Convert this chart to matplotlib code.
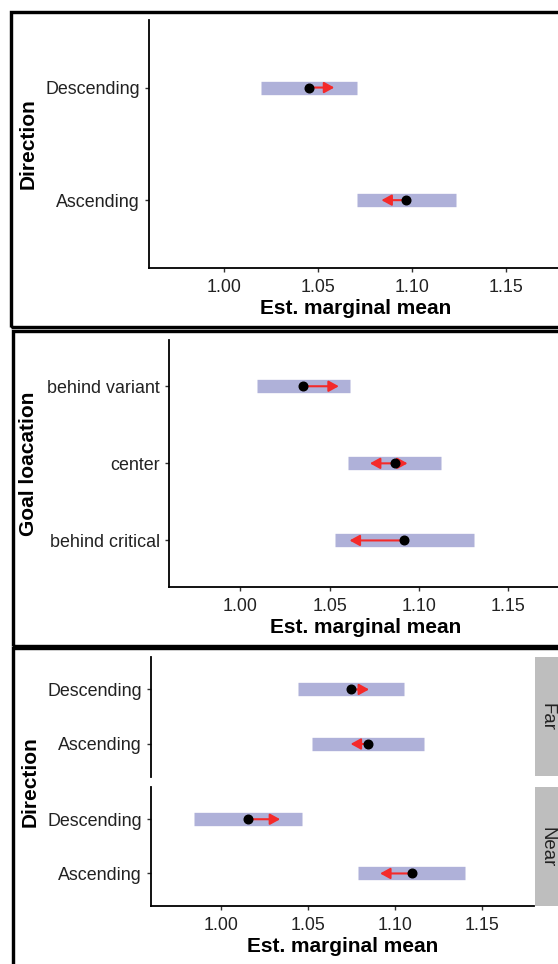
import numpy as np
import matplotlib
matplotlib.use("Agg")
import matplotlib.pyplot as plt
from matplotlib.patches import Rectangle

plt.rcParams['font.family'] = ['Liberation Sans', 'DejaVu Sans']

nan = np.nan
# ---------------- data ----------------
dir_levels = ["Ascending", "Descending"]
p1_emmean = [1.0971, 1.0453]
p1_lower = [1.0710, 1.0196]
p1_upper = [1.1234, 1.0709]
p1_arrow_left = [1.0838, nan]
p1_arrow_right = [nan, 1.0587]

goal_levels = ["behind critical", "center", "behind variant"]
p2_emmean = [1.0919, 1.0864, 1.0351]
p2_lower = [1.0533, 1.0602, 1.0092]
p2_upper = [1.1308, 1.1125, 1.0616]
p2_arrow_left = [1.0612, 1.0726, nan]
p2_arrow_right = [nan, 1.0937, 1.0552]

facets = ["Far", "Near"]
far_emmean = [1.0845, 1.0749]
far_lower = [1.0522, 1.0445]
far_upper = [1.1165, 1.1051]
far_arrow_left = [1.0745, nan]
far_arrow_right = [nan, 1.0851]
near_emmean = [1.1096, 1.0157]
near_lower = [1.0790, 0.9849]
near_upper = [1.1404, 1.0467]
near_arrow_left = [1.0914, nan]
near_arrow_right = [nan, 1.0341]

xticks = [1.00, 1.05, 1.10, 1.15]
xticklabels = ["1.00", "1.05", "1.10", "1.15"]

# ---------------- style ----------------
W, H = 558, 964
BAR_C = '#AFB1D9'
ARROW_C = '#F42A2A'
TXT_C = '#222222'
TICK_FS = 12.9
TITLE_FS = 15

fig = plt.figure(figsize=(W / 100, H / 100), dpi=100)


def rect(l, t, r, b):
    return [l / W, 1 - b / H, (r - l) / W, (b - t) / H]


def style_axes(ax, nlev, labels, show_x=True):
    ax.set_xlim(0.96, 1.18)
    ax.set_ylim(0.4, nlev + 0.6)
    ax.set_yticks(range(1, nlev + 1))
    ax.set_yticklabels(labels)
    for s in ['top', 'right']:
        ax.spines[s].set_visible(False)
    ax.spines['left'].set_linewidth(1.3)
    ax.spines['bottom'].set_linewidth(1.3)
    ax.tick_params(axis='both', length=3.2, width=1.0, labelsize=TICK_FS,
                   labelcolor=TXT_C, color='#333333')
    ax.tick_params(axis='y', pad=3.4)
    ax.tick_params(axis='x', pad=4.8)
    if show_x:
        ax.set_xticks(xticks)
        ax.set_xticklabels(xticklabels)
    else:
        ax.spines['bottom'].set_visible(False)
        ax.set_xticks([])
    ax.set_facecolor('none')


def draw(ax, emmean, lower, upper, aleft, aright):
    y = np.arange(1, len(emmean) + 1)
    ax.hlines(y, lower, upper, colors=BAR_C, linewidth=9.6, capstyle='butt', zorder=1)
    for yi, m, al, ar in zip(y, emmean, aleft, aright):
        for tip in (al, ar):
            if not np.isnan(tip):
                ax.annotate('', xy=(tip, yi), xytext=(m, yi),
                            arrowprops=dict(arrowstyle='-|>,head_length=0.4,head_width=0.22',
                                            mutation_scale=15, lw=1.5, color=ARROW_C,
                                            shrinkA=0, shrinkB=0), zorder=2)
    ax.plot(emmean, y, 'o', color='black', markersize=6.2, zorder=3)


def ftext(x, y, s, **kw):
    fig.text(x / W, 1 - y / H, s, ha='center', va='center', **kw)


# ---------------- panel 1 ----------------
ax1 = fig.add_axes(rect(149, 20, 562, 267.7))
draw(ax1, p1_emmean, p1_lower, p1_upper, p1_arrow_left, p1_arrow_right)
style_axes(ax1, 2, dir_levels)
ftext(28, 144, "Direction", rotation=90, fontsize=TITLE_FS, fontweight='bold')
ftext(355.5, 308, "Est. marginal mean", fontsize=TITLE_FS, fontweight='bold')

# ---------------- panel 2 ----------------
ax2 = fig.add_axes(rect(169, 340, 561.5, 586.7))
draw(ax2, p2_emmean, p2_lower, p2_upper, p2_arrow_left, p2_arrow_right)
style_axes(ax2, 3, goal_levels)
ftext(28.5, 464, "Goal loacation", rotation=90, fontsize=TITLE_FS, fontweight='bold')
ftext(365.5, 627.7, "Est. marginal mean", fontsize=TITLE_FS, fontweight='bold')

# ---------------- panel 3 ----------------
ax3a = fig.add_axes(rect(151, 656.7, 534.5, 776.7))
draw(ax3a, far_emmean, far_lower, far_upper, far_arrow_left, far_arrow_right)
style_axes(ax3a, 2, dir_levels, show_x=False)
ax3b = fig.add_axes(rect(151, 786.7, 534.5, 906))
draw(ax3b, near_emmean, near_lower, near_upper, near_arrow_left, near_arrow_right)
style_axes(ax3b, 2, dir_levels)
for (t, b), name in zip([(657.3, 776.3), (787.3, 906)], facets):
    sax = fig.add_axes(rect(535, t, 563, b))
    sax.set_facecolor('#BEBEBE')
    for s in sax.spines.values():
        s.set_visible(False)
    sax.set_xticks([])
    sax.set_yticks([])
    sax.text(0.43, 0.5, name, rotation=-90, ha='center', va='center',
             fontsize=13.4, color=TXT_C, transform=sax.transAxes)
ftext(30, 781.5, "Direction", rotation=90, fontsize=TITLE_FS, fontweight='bold')
ftext(342.5, 946.7, "Est. marginal mean", fontsize=TITLE_FS, fontweight='bold')

# ---------------- borders ----------------
def border(l, t, r, b, lw=3.4):
    fig.patches.append(Rectangle((l / W, 1 - b / H), (r - l) / W, (b - t) / H,
                                 transform=fig.transFigure, fill=False,
                                 edgecolor='black', linewidth=lw * 0.72, zorder=10))

border(11.2, 12.3, 600, 327)
border(13.3, 331, 600, 645.5)
border(13.3, 648, 600, 1000)

fig.savefig("out.png", dpi=100)
